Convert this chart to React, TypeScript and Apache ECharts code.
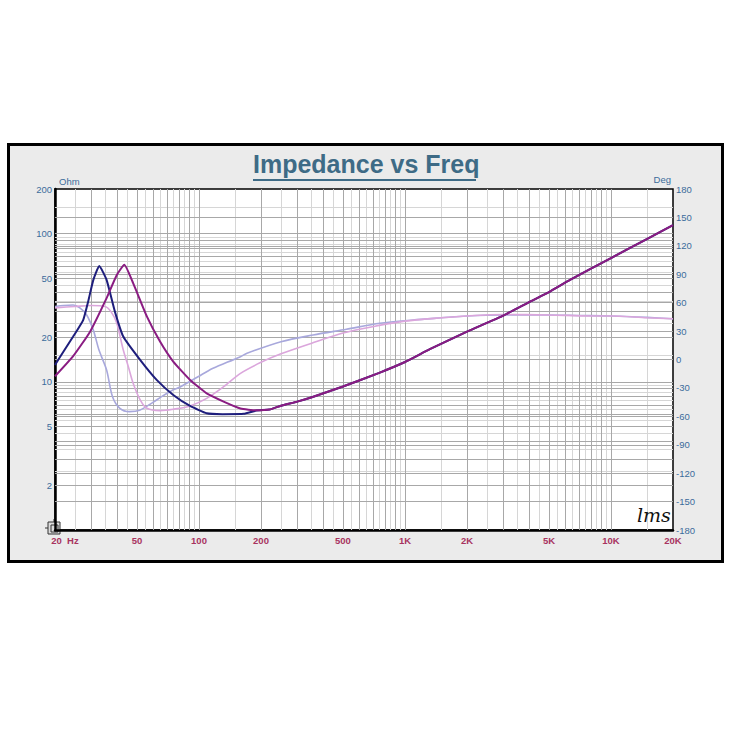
import React, { useEffect, useRef } from "react";
import * as echarts from "echarts";

// ---- tick labels ----
const freqTicks = [20, 50, 100, 200, 500, 1000, 2000, 5000, 10000, 20000];
const ohmTicks = [2, 5, 10, 20, 50, 100, 200];

// ---- grid line positions ----
const freqGridDark = [30, 40, 50, 60, 70, 80, 90, 100, 200, 300, 400, 500, 600, 700, 800, 900, 1000, 2000, 3000, 4000, 5000, 6000, 7000, 8000, 9000, 10000];
const freqGridLight = [25, 35, 45, 55, 65, 75, 85, 95, 150, 250, 350, 450, 550, 650, 750, 850, 950, 1500, 2500, 3500, 4500, 5500, 6500, 7500, 8500, 9500, 15000];
const ohmGridDark = [2, 3, 4, 5, 6, 7, 8, 9, 10, 20, 30, 40, 50, 60, 70, 80, 90, 100];
const ohmGridLight = [2.5, 3.5, 4.5, 5.5, 6.5, 7.5, 8.5, 9.5, 15, 25, 35, 45, 55, 65, 75, 85, 95, 150];
const degGrid = [150, 120, 90, 60, 30, 0, -30, -60, -90, -120, -150];

// ---- impedance curve 1 (navy) ----
const navyFreq = [20, 22, 24.5, 27.4, 29, 30.7, 32.8, 35.6, 39, 42.9, 51.9, 62.3, 75, 90.5, 109, 130, 165, 190, 220, 250, 300, 356, 500, 750, 1000, 1320, 2000, 3000, 4050, 5000, 6325, 10000, 15000, 20000];
const navyOhm = [13.0, 16.0, 20.2, 26.1, 35, 48.7, 60.4, 48.7, 30, 20.2, 14.0, 10.3, 8.15, 6.87, 6.13, 6.05, 6.08, 6.4, 6.5, 6.9, 7.35, 7.9, 9.3, 11.5, 13.6, 16.6, 21.8, 28.0, 34.8, 40.3, 48.7, 68.4, 92.3, 114];

// ---- impedance curve 2 (purple) ----
const purpleFreq = [20, 24.5, 29.6, 35.6, 39.9, 43.4, 47.9, 55.9, 64.7, 75, 90.5, 109, 131.7, 159, 190, 220, 250, 300, 356, 500, 750, 1000, 1320, 2000, 3000, 4050, 5000, 6325, 10000, 15000, 20000];
const purpleOhm = [10.9, 14.9, 21.8, 36.7, 52.6, 61.6, 46.3, 27.5, 18.7, 13.7, 10.3, 8.35, 7.35, 6.6, 6.42, 6.5, 6.9, 7.35, 7.9, 9.3, 11.5, 13.6, 16.6, 21.8, 28.0, 34.8, 40.3, 48.7, 68.4, 92.3, 114];

// ---- phase curve 1 (lavender) ----
const lavFreq = [20, 22, 24.5, 26.4, 28.5, 30.7, 32.7, 35.6, 38, 41.3, 46, 51.5, 60, 65, 75, 81, 109, 117, 159, 171, 250, 358, 519, 755, 1094, 1500, 2000, 3000, 5000, 7000, 10000, 15000, 20000];
const lavDeg = [56, 57, 57.5, 54.5, 47, 31, 10, -11, -39, -51.5, -55, -53.5, -45, -40, -32, -29, -12.9, -9.3, 3, 6.6, 18.8, 25.9, 31.9, 38.2, 41.7, 44, 46, 47, 47, 46.5, 46, 44.5, 43];

// ---- phase curve 2 (pink) ----
const pinkFreq = [20, 25, 30, 35, 37.4, 39.9, 42.9, 45.4, 47.9, 51.9, 55.9, 64.7, 75, 90.5, 109, 131.7, 159, 200, 250, 350, 500, 750, 1000, 1500, 2000, 3000, 5000, 8000, 10000, 15000, 20000];
const pinkDeg = [54.5, 56, 57, 56, 50.5, 38.2, 10, -7.6, -25, -42.8, -51.5, -54, -52.5, -49, -41, -28.7, -14.6, -3, 6, 17, 28, 36, 40.5, 44, 46, 47.5, 47, 46, 46, 44, 43];

const zip = (xs: number[], ys: number[]) => xs.map((x, i) => [x, ys[i]]);

const fmtFreq = (v: number) => {
  if (v === 20) return "{n|20}  {u|Hz}";
  if (v >= 1000) return v / 1000 + "K";
  return String(v);
};

const gridSeries = (
  key: "xAxis" | "yAxis",
  values: number[],
  color: string,
  yAxisIndex: number
) => ({
  type: "line",
  yAxisIndex,
  data: [[20, yAxisIndex === 0 ? 1 : -180]],
  showSymbol: false,
  lineStyle: { width: 0, opacity: 0 },
  silent: true,
  z: 1,
  markLine: {
    silent: true,
    z: 1,
    symbol: ["none", "none"],
    label: { show: false },
    animation: false,
    lineStyle: { type: "solid", width: 1, color },
    data: values.map((v) => ({ [key]: v })),
  },
});

export default function App() {
  const ref = useRef<HTMLDivElement>(null);
  useEffect(() => {
    if (!ref.current) return;
    const chart = echarts.init(ref.current, undefined, { renderer: "svg" });
    const blue = "#3b6c9b";
    const red = "#a8335f";
    const font = "Liberation Sans";
    chart.setOption({
      animation: false,
      backgroundColor: "#ffffff",
      title: {
        text: "Impedance vs Freq",
        left: 253,
        top: 151,
        padding: 0,
        textStyle: { fontFamily: font, fontSize: 25, fontWeight: "bold", color: "#3e6b86" },
      },
      graphic: [
        {
          type: "rect",
          z: -10,
          shape: { x: 8.5, y: 144.5, width: 714, height: 417 },
          style: { fill: "#ebebeb", stroke: "#000", lineWidth: 3 },
        },
        {
          type: "line",
          z: 10,
          shape: { x1: 253, y1: 180, x2: 476, y2: 180 },
          style: { stroke: "#3e6b86", lineWidth: 2 },
        },
        {
          type: "group",
          z: 20,
          children: [
            { type: "rect", shape: { x: 48, y: 522, width: 12, height: 12 }, style: { fill: "#dcdcdc", stroke: "#333", lineWidth: 1 } },
            { type: "rect", shape: { x: 51, y: 525, width: 7, height: 7 }, style: { fill: "none", stroke: "#333", lineWidth: 1 } },
            { type: "line", shape: { x1: 45, y1: 528, x2: 48, y2: 528 }, style: { stroke: "#333", lineWidth: 1 } },
            { type: "line", shape: { x1: 54, y1: 519, x2: 54, y2: 522 }, style: { stroke: "#333", lineWidth: 1 } },
          ],
        },
        {
          type: "text",
          z: 20,
          x: 637,
          y: 505,
          style: { text: "lms", fontFamily: "DejaVu Serif", fontStyle: "italic", fontSize: 19, fill: "#111" },
        },
      ],
      grid: {
        left: 55,
        top: 189,
        width: 618,
        height: 341,
        show: true,
        backgroundColor: "#ffffff",
        borderColor: "#000",
        borderWidth: 1.5,
      },
      xAxis: {
        type: "log",
        logBase: 10,
        min: 20,
        max: 20000,
        axisLine: { show: true, onZero: false, lineStyle: { color: "#000", width: 2.5 } },
        axisTick: { show: false, customValues: freqTicks },
        splitLine: { show: false },
        minorSplitLine: { show: false },
        axisLabel: {
          customValues: freqTicks,
          showMinLabel: true,
          showMaxLabel: true,
          formatter: fmtFreq,
          color: red,
          fontFamily: font,
          fontSize: 9.5,
          fontWeight: "bold",
          margin: 5,
          rich: {
            n: { color: red, fontFamily: font, fontSize: 9.5, fontWeight: "bold", padding: [0, 0, 0, 20] },
            u: { color: red, fontFamily: font, fontSize: 9.5, fontWeight: "bold" },
          },
        },
      },
      yAxis: [
        {
          type: "log",
          logBase: 10,
          min: 1,
          max: 200,
          position: "left",
          name: "Ohm",
          nameLocation: "end",
          nameGap: 3,
          nameTextStyle: { color: blue, fontFamily: font, fontSize: 9.5, align: "left", padding: [0, 0, 0, 4] },
          axisLine: { show: true, onZero: false, lineStyle: { color: "#000", width: 2.5 } },
          axisTick: { show: false, customValues: ohmTicks },
          splitLine: { show: false },
          axisLabel: { customValues: ohmTicks, color: blue, fontFamily: font, fontSize: 9.5, margin: 3 },
        },
        {
          type: "value",
          min: -180,
          max: 180,
          interval: 30,
          position: "right",
          name: "Deg",
          nameLocation: "end",
          nameGap: 3,
          nameTextStyle: { color: blue, fontFamily: font, fontSize: 9.5, align: "right", padding: [0, 2, 0, 0] },
          axisLine: { show: false, onZero: false },
          axisTick: { show: false },
          splitLine: { show: false },
          axisLabel: { color: blue, fontFamily: font, fontSize: 9.5, margin: 3 },
        },
      ],
      series: [
        gridSeries("xAxis", freqGridLight, "#d6d6d6", 0),
        gridSeries("yAxis", ohmGridLight, "#d6d6d6", 0),
        gridSeries("xAxis", freqGridDark, "#a8a8a8", 0),
        gridSeries("yAxis", ohmGridDark, "#a8a8a8", 0),
        gridSeries("yAxis", degGrid, "#a8a8a8", 1),
        {
          type: "line",
          name: "Phase 1",
          yAxisIndex: 1,
          data: zip(lavFreq, lavDeg),
          showSymbol: false,
          smooth: 0.3,
          z: 3,
          lineStyle: { color: "#a8a8dc", width: 1.6 },
        },
        {
          type: "line",
          name: "Phase 2",
          yAxisIndex: 1,
          data: zip(pinkFreq, pinkDeg),
          showSymbol: false,
          smooth: 0.3,
          z: 3,
          lineStyle: { color: "#dba6dc", width: 1.6 },
        },
        {
          type: "line",
          name: "Impedance 1",
          yAxisIndex: 0,
          data: zip(navyFreq, navyOhm),
          showSymbol: false,
          smooth: 0.15,
          z: 4,
          lineStyle: { color: "#1e1e7c", width: 2 },
        },
        {
          type: "line",
          name: "Impedance 2",
          yAxisIndex: 0,
          data: zip(purpleFreq, purpleOhm),
          showSymbol: false,
          smooth: 0.15,
          z: 4,
          lineStyle: { color: "#8a1c82", width: 2 },
        },
      ],
    });
    return () => chart.dispose();
  }, []);
  return <div ref={ref} style={{ position: "absolute", left: 0, top: 0, width: 738, height: 748 }} />;
}
